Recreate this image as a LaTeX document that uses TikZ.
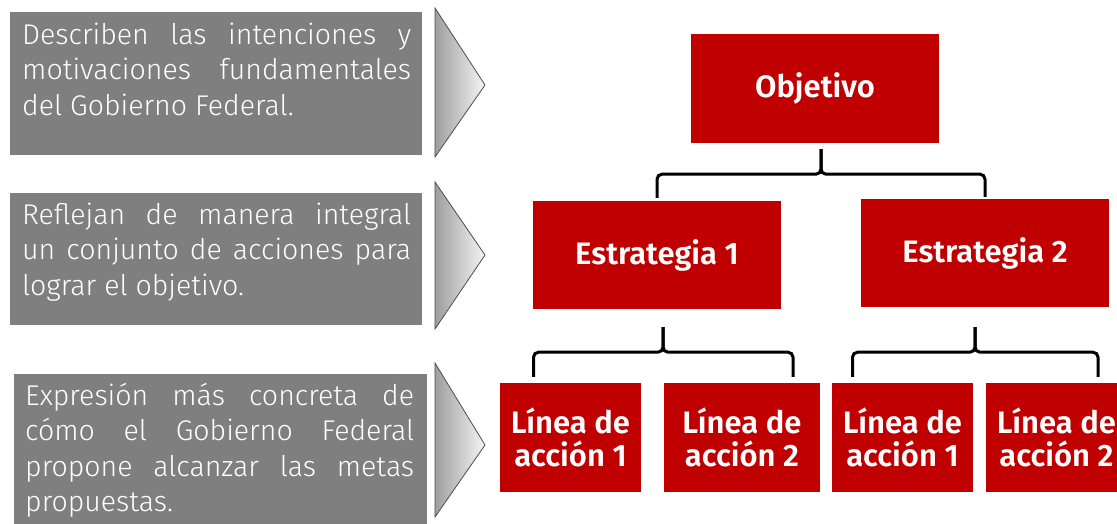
\documentclass[tikz,border=0pt]{standalone}
\usepackage{fontspec}
\setmainfont{Fira Sans}
\newfontfamily\ligera{Fira Sans Light}
\newfontfamily\media{Fira Sans SemiBold}
\usepackage{xcolor}
\usepackage{tikz}
\usetikzlibrary{positioning}
\definecolor{rojo}{HTML}{C00000}
\definecolor{gris}{HTML}{7F7F7F}

\begin{document}
\begin{tikzpicture}[x=1pt,y=-1pt,
  caja/.style={fill=rojo,text=white,inner sep=0pt,align=center,minimum height=109pt,font=\media\fontsize{31}{33}\selectfont},
  nivel/.style={fill=gris,inner sep=0pt,minimum width=412pt},
  texto/.style={text=white,inner sep=0pt,anchor=north west,text width=389pt,align=justify,font=\ligera\fontsize{28.5}{35.3}\selectfont},
  llave/.style={draw,line width=3pt,rounded corners=5pt},
  flecha/.style={draw=black!70,line width=0.8pt,left color=black!38,right color=black!4}]
\clip (0,0) rectangle (1117,524);
% niveles (izquierda)
\node[nivel,minimum height=143pt] (g1) at (216,83.5) {};
\node[nivel,minimum height=132pt] (g2) at (216,259) {};
\node[nivel,minimum height=160pt,minimum width=413pt] (g3) at (220.5,454) {};
\node[texto] (t1) at (22,23) {Describen las intenciones y\linebreak motivaciones fundamentales\linebreak del Gobierno Federal.};
\node[texto] (t2) at (22,203) {Reflejan de manera integral\linebreak un conjunto de acciones para\linebreak lograr el objetivo.};
\node[texto] (t3) at (25,383) {Expresión más concreta de\linebreak cómo el Gobierno Federal\linebreak propone alcanzar las metas\linebreak propuestas.};
\foreach \a/\m/\b in {8/85/157,182/255/329,363/445/517}
  \path[flecha] (435,\a) -- (485,\m) -- (435,\b) -- cycle;
% jerarquia
\node[caja,minimum width=248pt] (obj) at (815,88.5) {Objetivo};
\node[caja,minimum width=248pt,minimum height=108pt] (e1) at (657,255) {Estrategia 1};
\node[caja,minimum width=248pt,minimum height=108pt] (e2) at (985,253) {Estrategia 2};
\node[caja,minimum width=141pt] (l1) at (570.5,437.5) {Línea de\\acción 1};
\node[caja,minimum width=156pt] (l2) at (742,437.5) {Línea de\\acción 2};
\node[caja,minimum width=141pt] (l3) at (902.5,437.5) {Línea de\\acción 1};
\node[caja,minimum width=141pt] (l4) at (1056.5,437.5) {Línea de\\acción 2};
\coordinate (p1) at ([xshift=6pt,yshift=-6pt]obj.south);
\coordinate (p2) at ([xshift=6pt,yshift=-18pt]e1.south);
\coordinate (p3) at ([xshift=-10pt,yshift=-20pt]e2.south);
\draw[llave] ([yshift=3pt]e1.north) |- ([yshift=-25pt]p1) -- (p1);
\draw[llave] ([yshift=2pt]e2.north) |- ([yshift=-25pt]p1) -- (p1);
\draw[llave] ([xshift=-37pt,yshift=6pt]l1.north) |- ([yshift=-25pt]p2) -- (p2);
\draw[llave] ([xshift=51pt,yshift=6pt]l2.north) |- ([yshift=-25pt]p2) -- (p2);
\draw[llave] ([xshift=-50pt,yshift=6pt]l3.north) |- ([yshift=-25pt]p3) -- (p3);
\draw[llave] ([xshift=41.5pt,yshift=6pt]l4.north) |- ([yshift=-25pt]p3) -- (p3);
\end{tikzpicture}
\end{document}
